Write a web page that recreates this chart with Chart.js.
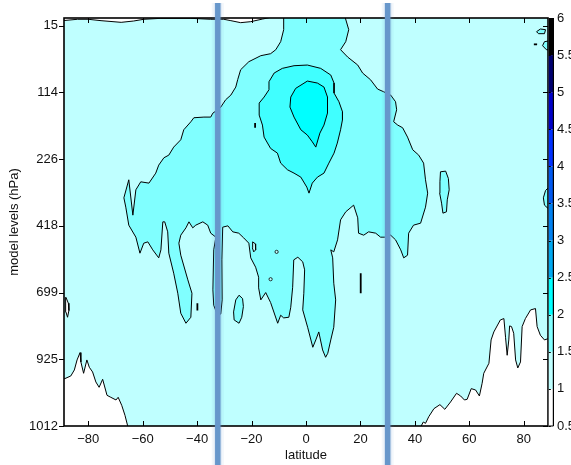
<!DOCTYPE html>
<html><head><meta charset="utf-8">
<script src="https://cdn.jsdelivr.net/npm/chart.js@4.4.0/dist/chart.umd.min.js"></script>
<style>html,body{margin:0;padding:0;background:#fff;overflow:hidden}#wrap{width:571px;height:465px;position:relative}</style>
</head><body><div id="wrap"><canvas id="c"></canvas></div>
<script>
// ---- axis / tick data ----
const latTicks = [-80, -60, -40, -20, 0, 20, 40, 60, 80];
const latTickLabels = ['−80', '−60', '−40', '−20', '0', '20', '40', '60', '80'];
const levelTickPos = [0, 1, 2, 3, 4, 5, 6];
const levelTickLabels = ['15', '114', '226', '418', '699', '925', '1012'];
const cbLevels = [0.5, 1, 1.5, 2, 2.5, 3, 3.5, 4, 4.5, 5, 5.5, 6];
const cbLabels = ['0.5', '1', '1.5', '2', '2.5', '3', '3.5', '4', '4.5', '5', '5.5', '6'];
const guideLats = [-32.4, 30.0];
const guideLevelSpan = [-0.34, 6.7];

// ---- contour polygons: [latitude, level index] ----
const c10TopSliver = [[-89.5,-0.075],[-83.9,-0.096],[-80,-0.096],[-75.3,-0.075],[-67.9,-0.05],[-63.3,-0.07],[-59.6,-0.096],[-53.3,-0.11],[-42.3,-0.11],[-35,-0.096],[-30.2,-0.096],[-27.6,-0.075],[-24,-0.045],[-20.3,-0.06],[-15.9,-0.1],[-13,-0.125],[-13,-0.3],[-89.5,-0.3]];
const c10SW = [[-95,5.29],[-88.6,5.29],[-86.4,5.25],[-85.1,5.16],[-84.1,5.01],[-83.0,4.90],[-82.7,5.04],[-81.7,5.21],[-80.5,5.01],[-79.6,5.12],[-78.4,5.19],[-77.2,5.34],[-76.0,5.42],[-74.7,5.30],[-73.1,5.54],[-71.7,5.57],[-69.8,5.61],[-69.0,5.57],[-67.7,5.69],[-66.5,5.84],[-65.5,6.0],[-65.2,6.2],[-95,6.2]];
const c10SE = [[42.2,6.2],[42.3,6.0],[43.1,5.94],[43.9,5.96],[45.1,5.86],[47.0,5.74],[49.2,5.68],[51.0,5.75],[53.1,5.64],[55.3,5.51],[56.8,5.55],[58.2,5.61],[59.2,5.60],[60.7,5.44],[62.3,5.46],[63.7,5.55],[64.7,5.36],[65.3,5.21],[67.2,5.06],[68.0,4.71],[69.0,4.59],[71.4,4.41],[72.7,4.39],[73.3,4.67],[73.9,4.94],[74.5,4.71],[74.8,4.50],[75.5,4.51],[76.3,4.61],[77.0,5.01],[77.8,5.13],[78.8,5.04],[79.4,4.51],[80.6,4.39],[82.5,4.26],[84.3,4.24],[84.9,4.51],[86.1,4.64],[87.6,4.71],[89.0,4.69],[95,4.68],[95,6.2]];
const c15Main = [[-8.2,-0.15],[14.2,-0.15],[15.7,0.06],[14.6,0.24],[12.7,0.36],[15.3,0.47],[19.0,0.59],[20.8,0.71],[23.7,0.81],[26.3,0.95],[28.5,0.99],[31.1,1.04],[32.9,1.14],[33.3,1.26],[32.2,1.44],[33.7,1.49],[35.5,1.53],[37.3,1.67],[39.2,1.86],[41.4,1.94],[43.2,2.06],[43.9,2.31],[44.7,2.51],[43.9,2.72],[42.1,2.96],[39.5,2.99],[37.7,3.11],[37.3,3.44],[35.9,3.48],[34.8,3.36],[32.9,3.21],[31.1,3.14],[28.9,3.17],[27.4,3.17],[25.6,3.11],[23.0,3.09],[21.2,3.14],[19.3,3.11],[19.0,2.88],[17.5,2.69],[14.6,2.79],[12.7,2.91],[11.6,3.21],[10.2,3.39],[9.1,3.36],[9.8,3.48],[10.2,3.86],[10.9,4.11],[10.2,4.52],[9.1,4.71],[8.0,4.91],[7.2,4.97],[6.1,4.86],[4.7,4.59],[3.6,4.71],[2.5,4.82],[0.6,4.52],[-1.2,4.26],[-0.8,4.01],[-0.5,3.66],[-1.2,3.54],[-3.0,3.47],[-4.5,3.51],[-4.9,3.92],[-5.6,4.22],[-6.3,4.37],[-8.2,4.38],[-9.3,4.34],[-10.4,4.46],[-13.0,4.15],[-14.8,4.00],[-16.6,4.11],[-17.4,3.93],[-17.4,3.77],[-18.5,3.62],[-20.3,3.48],[-21.0,3.26],[-22.9,3.18],[-24.7,3.11],[-26.9,3.09],[-28.7,3.00],[-30.6,3.02],[-30.9,3.51],[-30.8,4.11],[-31.3,4.32],[-32.4,4.35],[-33.9,4.19],[-34.2,3.96],[-33.9,3.36],[-33.1,3.17],[-35.0,3.11],[-36.1,2.99],[-37.9,2.94],[-40.5,2.99],[-41.6,3.03],[-43.0,2.94],[-44.1,3.03],[-46.0,3.14],[-46.7,3.26],[-46.0,3.44],[-43.4,3.81],[-41.9,4.01],[-42.3,4.37],[-44.1,4.46],[-46.0,4.31],[-47.1,4.01],[-48.6,3.71],[-50.4,3.41],[-50.8,3.09],[-51.9,2.94],[-52.6,2.94],[-53.3,3.36],[-54.1,3.48],[-56.3,3.36],[-58.1,3.24],[-59.6,3.26],[-61.0,3.41],[-62.5,3.17],[-65.1,2.99],[-66.2,2.72],[-66.9,2.58],[-65.1,2.31],[-63.6,2.84],[-62.5,2.46],[-60.7,2.34],[-57.7,2.36],[-55.2,2.21],[-54.1,2.09],[-52.2,1.98],[-50.4,1.94],[-48.6,1.82],[-46.0,1.71],[-44.9,1.56],[-42.3,1.44],[-41.2,1.38],[-37.5,1.37],[-35.0,1.37],[-34.2,1.31],[-32.4,1.26],[-31.3,1.22],[-29.5,1.11],[-27.6,1.04],[-25.8,0.92],[-25.1,0.81],[-24.0,0.66],[-21.0,0.54],[-16.6,0.45],[-13.0,0.42],[-11.1,0.36],[-9.3,0.24],[-8.2,0.06]];
const c20Ring = [[-11.7,0.71],[-8.7,0.64],[-4.4,0.60],[0.5,0.59],[5.4,0.64],[9.1,0.74],[10.3,0.86],[10.3,1.01],[12.1,1.14],[13.4,1.29],[13.4,1.41],[12.7,1.56],[11.5,1.76],[10.3,1.91],[8.4,2.06],[6.6,2.21],[4.2,2.27],[2.3,2.36],[1.1,2.51],[0.3,2.42],[-1.9,2.27],[-4.4,2.21],[-6.8,2.16],[-9.3,2.06],[-10.5,1.91],[-13.0,1.84],[-15.4,1.67],[-16.0,1.49],[-17.2,1.34],[-17.2,1.16],[-15.4,1.07],[-13.6,0.96],[-13.6,0.84]];
const c25Core = [[-5.6,1.07],[-3.8,0.94],[0.5,0.83],[4.2,0.86],[6.6,0.92],[7.9,1.07],[7.9,1.31],[6.6,1.49],[5.1,1.61],[3.6,1.82],[2.3,1.74],[0.5,1.64],[-1.9,1.56],[-4.4,1.37],[-5.9,1.22]];
const c15IslandA = [[-26.6,4.29],[-25.8,4.11],[-24.6,4.04],[-23.3,4.09],[-23.0,4.21],[-23.6,4.37],[-24.6,4.46],[-26.4,4.41]];
const c15IslandB = [[49.4,2.19],[51.3,2.18],[52.3,2.29],[52.6,2.46],[51.9,2.61],[51.6,2.79],[50.3,2.81],[49.8,2.66],[49.1,2.51],[49.2,2.34]];
const c15IslandC = [[92,2.39],[90,2.39],[88.0,2.47],[87.2,2.58],[87.6,2.69],[90,2.78],[92,2.78]];
const c15IslandE = [[84.7,0.09],[86.1,0.05],[88.0,0.06],[87.6,0.12],[85.4,0.12]];
const c15IslandF = [[92,0.21],[87.6,0.24],[86.9,0.30],[88.3,0.36],[92,0.38]];
const c10IslandD = [[-88.2,4.07],[-87.3,4.16],[-87.1,4.27],[-87.6,4.37],[-88.2,4.29],[-88.4,4.16]];
const cHoleG = [[-19.6,3.24],[-18.6,3.27],[-18.5,3.36],[-19.2,3.39],[-19.7,3.33]];
const cTinyLoops = [[-10.8,3.39],[-13.0,3.80]];
const cDashes = [
  [[20.1,3.71],[20.1,4.01]],
  [[-18.7,1.46],[-18.7,1.53]],
  [[-39.9,4.16],[-39.9,4.27]],
  [[83.7,0.28],[84.9,0.28]]
];

// ---- styles ----
const BG = '#bfffff';
const C10 = '#ffffff', C15 = '#80ffff', C20 = '#40ffff', C25 = '#00ffff';
const cbColors = ['#ffffff','#bfffff','#80ffff','#00ffff','#00a8f0','#0080f0','#0058f0','#0030ff','#0000c8','#000070','#000000'];
const FONT = '"Liberation Sans", Arial, Helvetica, sans-serif';
const GUIDE = '#6797cb';

const toXY = pts => pts.map(p => ({x: p[0], y: p[1]}));
const closed = pts => pts.concat([pts[0]]);
const datasets = [];
function addPoly(pts, fillColor) {
  datasets.push({data: toXY(closed(pts)), showLine: true, fill: fillColor ? 'shape' : false,
    backgroundColor: fillColor || 'rgba(0,0,0,0)', borderColor: '#000', borderWidth: 1,
    pointRadius: 0, tension: 0});
}
function addLine(pts, width) {
  datasets.push({data: toXY(pts), showLine: true, fill: false, borderColor: '#000',
    borderWidth: width, pointRadius: 0, tension: 0});
}
addPoly(c10TopSliver, C10);
addPoly(c10SW, C10);
addPoly(c10SE, C10);
addPoly(c15Main, C15);
addPoly(c15IslandA, C15);
addPoly(c15IslandB, C15);
addPoly(c15IslandC, C15);
addPoly(c15IslandE, C15);
addPoly(c15IslandF, C15);
addPoly(c10IslandD, C10);
addPoly(c20Ring, C20);
addPoly(c25Core, C25);
addPoly(cHoleG, BG);
datasets.push({data: toXY(cTinyLoops), showLine: false, pointRadius: 1.6, pointBackgroundColor: BG,
  pointBorderColor: '#000', pointBorderWidth: 0.8});
cDashes.forEach(d => addLine(d, 1.8));
guideLats.forEach((lat, i) => {
  const pts = [{x: lat, y: guideLevelSpan[0]}, {x: lat, y: guideLevelSpan[1]}];
  datasets.push({data: pts, showLine: true, fill: false, borderColor: 'rgba(103,151,203,0.08)', borderWidth: 12, pointRadius: 0, clip: false, frameBefore: i === 0});
  datasets.push({data: pts, showLine: true, fill: false, borderColor: 'rgba(103,151,203,0.16)', borderWidth: 8, pointRadius: 0, clip: false});
  datasets.push({data: pts, showLine: true, fill: false, borderColor: GUIDE, borderWidth: 5.5, pointRadius: 0, clip: false});
});
// draw in list order: first dataset at the bottom
datasets.forEach((d, i) => { d.order = datasets.length - i; });

function drawFrame(chart) {
  const {ctx, chartArea: a, scales} = chart;
  ctx.save();
  ctx.strokeStyle = '#000';
  ctx.lineWidth = 1;
  ctx.beginPath();
  latTicks.forEach(v => {
    const px = Math.round(scales.x.getPixelForValue(v)) + 0.5;
    ctx.moveTo(px, a.bottom); ctx.lineTo(px, a.bottom - 5);
    ctx.moveTo(px, a.top); ctx.lineTo(px, a.top + 5);
  });
  levelTickPos.forEach(v => {
    const py = Math.round(scales.y.getPixelForValue(v)) + 0.5;
    ctx.moveTo(a.right, py); ctx.lineTo(a.right - 5, py);
    ctx.moveTo(a.left, py); ctx.lineTo(a.left - 5, py);
  });
  ctx.stroke();
  ctx.lineWidth = 1.6;
  ctx.strokeRect(a.left, a.top, a.right - a.left, a.bottom - a.top);
  ctx.restore();
}
function drawColorbar(chart) {
  const {ctx, chartArea: a, scales} = chart;
  const cb = scales.cb;
  const x0 = a.right + 0.8, w = 4.6;
  ctx.save();
  for (let i = 0; i < cbColors.length; i++) {
    const y1 = cb.getPixelForValue(cbLevels[i]);
    const y2 = cb.getPixelForValue(cbLevels[i + 1]);
    ctx.fillStyle = cbColors[i];
    ctx.fillRect(x0, y2, w, y1 - y2);
  }
  ctx.strokeStyle = '#000';
  ctx.lineWidth = 1.2;
  ctx.beginPath();
  ctx.moveTo(x0 + w, a.top); ctx.lineTo(x0 + w, a.bottom);
  ctx.moveTo(x0, a.bottom); ctx.lineTo(x0 + w, a.bottom);
  ctx.stroke();
  ctx.lineWidth = 1;
  ctx.beginPath();
  cbLevels.forEach(v => {
    const py = Math.round(cb.getPixelForValue(v)) + 0.5;
    ctx.moveTo(x0, py); ctx.lineTo(x0 + 2, py);
  });
  ctx.stroke();
  ctx.restore();
}
const framePlugin = {
  id: 'frameAndBar',
  beforeDatasetsDraw(chart) {
    const {ctx, chartArea: a} = chart;
    ctx.save(); ctx.fillStyle = BG;
    ctx.fillRect(a.left, a.top, a.right - a.left, a.bottom - a.top);
    ctx.restore();
  },
  beforeDatasetDraw(chart, args) {
    const ds = chart.data.datasets[args.index];
    if (ds && ds.frameBefore) { drawFrame(chart); drawColorbar(chart); }
  }
};

Chart.defaults.font.family = FONT;
Chart.defaults.font.size = 13;
Chart.defaults.color = '#111';

new Chart(document.getElementById('c'), {
  type: 'scatter',
  data: {datasets},
  options: {
    responsive: true, maintainAspectRatio: false, animation: false,
    devicePixelRatio: 1,
    layout: {padding: {top: 18, left: 0, right: 0, bottom: 0}},
    plugins: {legend: {display: false}, tooltip: {enabled: false}},
    scales: {
      x: {
        type: 'linear', min: -88.9, max: 88.9,
        afterBuildTicks: s => { s.ticks = latTicks.map(v => ({value: v})); },
        afterFit: s => { s.height = 39; },
        ticks: {autoSkip: false, maxRotation: 0, padding: 6,
          callback: v => latTickLabels[latTicks.indexOf(v)]},
        grid: {display: false, drawTicks: false},
        border: {display: false},
        title: {display: true, text: 'latitude', font: {size: 13}, padding: {top: 0, bottom: 2}}
      },
      y: {
        type: 'linear', reverse: true, min: -0.115, max: 6,
        afterBuildTicks: s => { s.ticks = levelTickPos.map(v => ({value: v})); },
        afterFit: s => { s.width = 64; },
        ticks: {autoSkip: false, padding: 1,
          callback: v => levelTickLabels[levelTickPos.indexOf(v)]},
        grid: {drawOnChartArea: false, drawTicks: true, tickLength: 5, color: 'rgba(0,0,0,0)'},
        border: {display: false},
        title: {display: true, text: 'model levels (hPa)', font: {size: 13}, padding: {top: 7, bottom: 0}}
      },
      cb: {
        type: 'linear', position: 'right', min: 0.5, max: 6,
        afterBuildTicks: s => { s.ticks = cbLevels.map(v => ({value: v})); },
        afterFit: s => { s.width = 23; },
        ticks: {autoSkip: false, padding: 4,
          callback: v => cbLabels[cbLevels.indexOf(v)]},
        grid: {drawOnChartArea: false, drawTicks: true, tickLength: 5, color: 'rgba(0,0,0,0)'},
        border: {display: false}
      }
    }
  },
  plugins: [framePlugin]
});
</script>
</body></html>
